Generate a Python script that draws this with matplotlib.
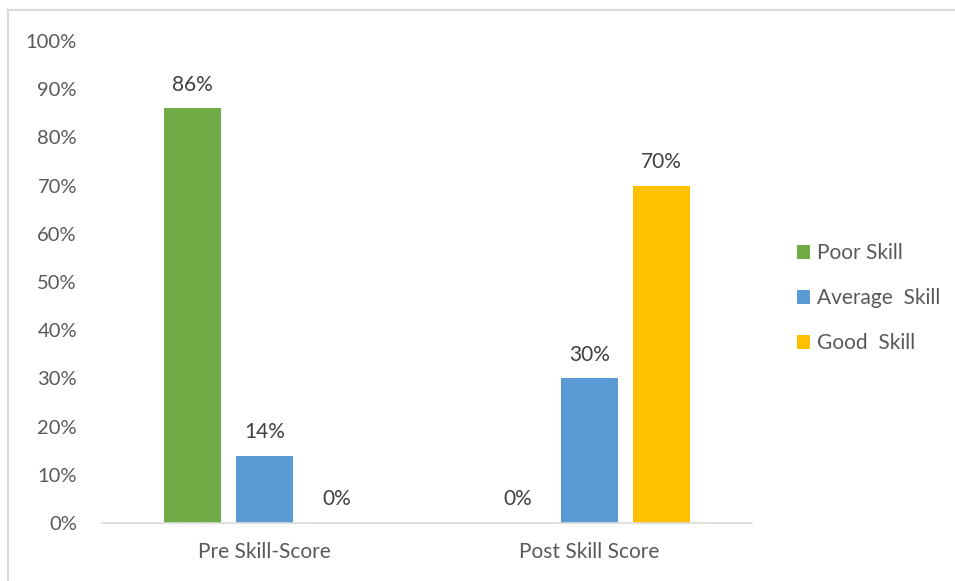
import matplotlib.pyplot as plt
import numpy as np
from matplotlib.lines import Line2D

# Pre/post skill score distribution
categories = ['Pre Skill-Score', 'Post Skill Score']
series_names = ['Poor Skill', 'Average  Skill', 'Good  Skill']
poor = [86, 0]
average = [14, 30]
good = [0, 70]
colors = ['#70AD47', '#5B9BD5', '#FFC000']
yticks = list(range(0, 101, 10))

text_color = '#595959'
plt.rcParams['font.family'] = ['Lato', 'DejaVu Sans']

fig = plt.figure(figsize=(9.55, 5.81), dpi=100)
ax = fig.add_axes([0.1068, 0.0998, 0.6806, 0.8296])

x = np.arange(len(categories))
width = 0.1754
step = 0.2215
for i, (vals, name, col) in enumerate(zip((poor, average, good), series_names, colors)):
    pos = x + (i - 1) * step
    ax.bar(pos, vals, width, color=col, label=name)
    for xp, v in zip(pos, vals):
        ax.annotate(f'{v}%', (xp, v), xytext=(0, 17), textcoords='offset points',
                    ha='center', va='center', fontsize=15, color='#404040')

ax.set_xlim(-0.5, 1.5)
ax.set_ylim(0, 100)
ax.set_yticks(yticks)
ax.set_yticklabels([f'{t}%' for t in yticks])
ax.set_xticks(x)
ax.set_xticklabels(categories)
ax.tick_params(axis='both', length=0, colors=text_color)
ax.tick_params(axis='y', pad=18, labelsize=14.5)
ax.tick_params(axis='x', pad=14, labelsize=15)
for s in ('top', 'right', 'left'):
    ax.spines[s].set_visible(False)
ax.spines['bottom'].set_color('#D9D9D9')
ax.spines['bottom'].set_linewidth(1.2)

leg = ax.legend(loc='center left', bbox_to_anchor=(1.04, 0.467), frameon=False,
                fontsize=15, handlelength=0.65, handleheight=0.65, handletextpad=0.3,
                labelspacing=1.2, labelcolor=text_color)

# outer chart border (top and left only visible)
fig.add_artist(Line2D([8 / 955, 1], [1 - 10 / 581, 1 - 10 / 581],
                      transform=fig.transFigure, color='#D9D9D9', lw=1.5))
fig.add_artist(Line2D([8 / 955, 8 / 955], [0, 1 - 10 / 581],
                      transform=fig.transFigure, color='#D9D9D9', lw=1.5))

plt.savefig('out.png', dpi=100)
